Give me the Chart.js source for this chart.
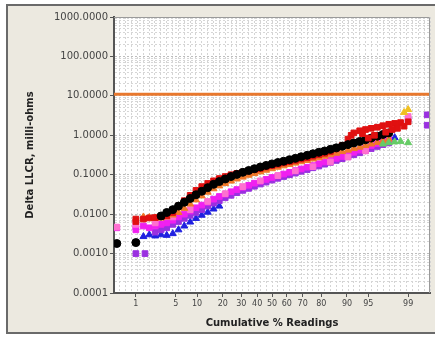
<!DOCTYPE html>
<html>
<head>
<meta charset="utf-8">
<script src="https://cdn.jsdelivr.net/npm/chart.js@4/dist/chart.umd.min.js"></script>
<style>
  html, body { margin: 0; padding: 0; background: #fff; }
  #chart { display: block; filter: blur(0.4px); }
</style>
</head>
<body>
<canvas id="chart" width="435" height="337"></canvas>
<script>
// Tick labels
var xTickPct = [1, 5, 10, 20, 30, 40, 50, 60, 70, 80, 90, 95, 99];
var yDecades = [0.0001, 0.001, 0.01, 0.1, 1, 10, 100, 1000];

// Limit line (milli-ohms)
var limitValue = 11;

// Cumulative % plotting positions shared by the main series
var stepPct = [1.4, 1.8, 2.3, 2.9, 3.6, 4.5, 5.5, 6.7, 8.1, 9.7, 11.5, 13.6, 15.9, 18.4, 21.2, 24.2, 27.4, 30.9, 34.5, 38.2, 42.1, 46.0, 50, 54.0, 57.9, 61.8, 65.5, 69.1, 72.6, 75.8, 78.8, 81.6, 84.1, 86.4, 88.5, 90.3, 91.9, 93.3, 94.5, 95.5, 96.4, 97.1, 97.7, 98.2, 98.6];

// Delta LLCR (milli-ohms) at each stepPct, null = no reading
var blackVal = [null, null, null, 0.009, 0.011, 0.013, 0.016, 0.02, 0.025, 0.031, 0.038, 0.047, 0.057, 0.067, 0.078, 0.09, 0.102, 0.115, 0.128, 0.142, 0.157, 0.172, 0.188, 0.204, 0.22, 0.24, 0.26, 0.285, 0.31, 0.34, 0.37, 0.4, 0.44, 0.48, 0.53, 0.58, 0.64, 0.7, 0.77, 0.85, 0.95, 1.05, 1.15, null, null];
var redVal = [0.0075, 0.008, 0.0082, 0.0085, 0.009, 0.011, 0.016, 0.022, 0.03, 0.04, 0.05, 0.06, 0.07, 0.08, 0.09, 0.1, 0.108, 0.116, 0.124, 0.134, 0.144, 0.157, 0.17, 0.184, 0.199, 0.215, 0.232, 0.25, 0.27, 0.295, 0.32, 0.35, 0.39, 0.45, 0.55, 0.8, 1.15, 1.3, 1.4, 1.5, 1.6, 1.75, 1.9, 2.0, 2.1];
var orangeVal = [0.0085, 0.0082, 0.008, 0.008, 0.0085, 0.0095, 0.011, 0.014, 0.018, 0.023, 0.029, 0.036, 0.044, 0.052, 0.06, 0.069, 0.078, 0.087, 0.097, 0.107, 0.118, 0.13, 0.142, 0.155, 0.168, 0.182, 0.197, 0.213, 0.23, 0.25, 0.27, 0.295, 0.32, 0.35, 0.385, 0.42, 0.46, 0.5, 0.55, 0.6, 0.66, 0.72, 0.8, null, null];
var magentaVal = [0.005, 0.0045, 0.005, 0.0055, 0.006, 0.007, 0.0085, 0.01, 0.012, 0.0145, 0.017, 0.02, 0.024, 0.028, 0.032, 0.037, 0.042, 0.048, 0.054, 0.061, 0.068, 0.076, 0.085, 0.094, 0.104, 0.115, 0.127, 0.14, 0.155, 0.17, 0.19, 0.21, 0.235, 0.26, 0.29, 0.33, 0.37, 0.42, 0.48, 0.55, 0.62, 0.7, 0.78, null, null];
var violetVal = [null, null, 0.0035, 0.004, 0.0045, 0.0055, 0.0065, 0.0078, 0.0093, 0.011, 0.013, 0.016, 0.019, 0.022, 0.026, 0.03, 0.035, 0.04, 0.045, 0.051, 0.058, 0.065, 0.073, 0.081, 0.09, 0.1, 0.11, 0.122, 0.135, 0.15, 0.166, 0.185, 0.205, 0.23, 0.255, 0.285, 0.32, 0.36, 0.41, 0.46, 0.52, 0.58, 0.64, null, null];
var blueVal = [0.0027, 0.003, 0.0028, 0.003, 0.0029, 0.0032, 0.004, 0.005, 0.0063, 0.0078, 0.0094, 0.0112, 0.0135, 0.016, null, null, null, null, null, null, null, null, null, null, null, null, null, null, null, null, null, null, null, null, null, null, null, null, null, null, null, null, 0.8, 0.87, null];

// Isolated readings at the ends of the distribution
var blackEndPct = [0.4, 1];
var blackEndVal = [0.0018, 0.0019];
var redEndPct = [1, 1, 91.2, 93.9, 95.0, 96.0, 97.4, 98.0, 98.4, 98.8, 99];
var redEndVal = [0.0075, 0.0065, 1.0, 1.1, 0.85, 1.0, 1.2, 1.4, 1.5, 1.7, 2.2];
var magentaEndPct = [0.4, 1, 1];
var magentaEndVal = [0.0045, 0.004, 0.0048];
var violetEndPct = [1, 1.5, 99, 99.6, 99.6];
var violetEndVal = [0.001, 0.001, 2.5, 3.3, 1.8];
var pinkPct = [0.4, 1, 2.3, 4.5, 8.1, 13.6, 21.2, 30.9, 42.1, 54, 65.5, 75.8, 84.1, 90.3, 94.5, 99];
var pinkVal = [0.0047, 0.0055, 0.006, 0.0085, 0.013, 0.021, 0.033, 0.05, 0.07, 0.095, 0.125, 0.16, 0.21, 0.28, 0.4, 3.0];
var greenPct = [97.1, 97.7, 98.2, 98.6, 99];
var greenVal = [0.6, 0.65, 0.68, 0.7, 0.65];
var yellowPct = [98.8, 99];
var yellowVal = [3.8, 4.5];

// inverse normal CDF, used as the probability-paper x scale
function probit(pct) {
    var p = pct / 100;
    var a = [-3.969683028665376e+01, 2.209460984245205e+02, -2.759285104469687e+02, 1.383577518672690e+02, -3.066479806614716e+01, 2.506628277459239e+00];
    var b = [-5.447609879822406e+01, 1.615858368580409e+02, -1.556989798598866e+02, 6.680131188771972e+01, -1.328068155288572e+01];
    var c = [-7.784894002430293e-03, -3.223964580411365e-01, -2.400758277161838e+00, -2.549732539343734e+00, 4.374664141464968e+00, 2.938163982698783e+00];
    var d = [7.784695709041462e-03, 3.224671290700398e-01, 2.445134137142996e+00, 3.754408661907416e+00];
    var pl = 0.02425, q, r;
    if (p < pl) {
        q = Math.sqrt(-2 * Math.log(p));
        return (((((c[0] * q + c[1]) * q + c[2]) * q + c[3]) * q + c[4]) * q + c[5]) / ((((d[0] * q + d[1]) * q + d[2]) * q + d[3]) * q + 1);
    }
    if (p > 1 - pl) {
        q = Math.sqrt(-2 * Math.log(1 - p));
        return -(((((c[0] * q + c[1]) * q + c[2]) * q + c[3]) * q + c[4]) * q + c[5]) / ((((d[0] * q + d[1]) * q + d[2]) * q + d[3]) * q + 1);
    }
    q = p - 0.5;
    r = q * q;
    return (((((a[0] * r + a[1]) * r + a[2]) * r + a[3]) * r + a[4]) * r + a[5]) * q / (((((b[0] * r + b[1]) * r + b[2]) * r + b[3]) * r + b[4]) * r + 1);
}

function points(pcts, vals) {
    var out = [];
    pcts.forEach(function (p, i) {
        if (vals[i] !== null) out.push({ x: probit(p), y: vals[i] });
    });
    return out;
}

function isDecade(v) {
    var l = Math.log10(v);
    return Math.abs(l - Math.round(l)) < 1e-9;
}

var X_MIN = -2.7, X_MAX = 2.7;

function series(data, color, style) {
    return {
        type: 'scatter',
        data: data,
        backgroundColor: color,
        borderColor: color,
        pointStyle: style,
        pointRadius: 4,
        borderWidth: 1
    };
}

// Frame and white plot background
var framePlugin = {
    id: 'frame',
    beforeDraw: function (chart) {
        var ctx = chart.ctx, a = chart.chartArea;
        ctx.save();
        ctx.fillStyle = '#fff';
        ctx.fillRect(0, 0, chart.width, chart.height);
        ctx.fillStyle = '#ECE9E0';
        ctx.fillRect(7, 5, 440, 328);
        ctx.strokeStyle = '#6A6A6A';
        ctx.lineWidth = 2;
        ctx.strokeRect(7, 5, 440, 328);
        ctx.fillStyle = '#fff';
        ctx.fillRect(a.left, a.top, a.right - a.left, a.bottom - a.top);
        ctx.restore();
    },
    afterDraw: function (chart) {
        var ctx = chart.ctx, a = chart.chartArea;
        ctx.save();
        ctx.strokeStyle = '#9A9A9A';
        ctx.lineWidth = 1;
        ctx.beginPath();
        ctx.moveTo(a.left, a.top + 0.5);
        ctx.lineTo(a.right - 0.5, a.top + 0.5);
        ctx.lineTo(a.right - 0.5, a.bottom);
        ctx.stroke();
        ctx.restore();
    }
};

var yTicks = [];
yDecades.forEach(function (d, i) {
    if (i === yDecades.length - 1) { yTicks.push(d); return; }
    for (var m = 1; m <= 9; m++) yTicks.push(d * m);
});

var ctx = document.getElementById('chart').getContext('2d');
new Chart(ctx, {
    type: 'scatter',
    data: {
        datasets: [
            {
                type: 'line',
                data: [{ x: X_MIN, y: limitValue }, { x: X_MAX, y: limitValue }],
                borderColor: '#E8782E',
                borderWidth: 3,
                pointRadius: 0,
                fill: false
            },
            series(points(yellowPct, yellowVal), '#F0C020', 'triangle'),
            series(points(greenPct, greenVal), '#66CC66', 'triangle'),
            series(points(stepPct, redVal).slice(36).concat(points(redEndPct, redEndVal).slice(2)), '#E01010', 'rect'),
            series(points(stepPct, blackVal).concat(points(blackEndPct, blackEndVal)), '#000000', 'circle'),
            series(points(stepPct, redVal).slice(0, 36).concat(points(redEndPct, redEndVal).slice(0, 2)), '#E01010', 'rect'),
            series(points(stepPct, orangeVal), '#F07828', 'triangle'),
            series(points(pinkPct, pinkVal), '#FF70D0', 'rect'),
            series(points(stepPct, magentaVal).concat(points(magentaEndPct, magentaEndVal)), '#F020F0', 'rect'),
            series(points(stepPct, violetVal).concat(points(violetEndPct, violetEndVal)), '#9A30E0', 'rect'),
            series(points(stepPct, blueVal), '#1F1FE0', 'triangle')
        ]
    },
    options: {
        responsive: false,
        animation: false,
        layout: { padding: { left: 20, top: 17, right: 3, bottom: 0 } },
        plugins: { legend: { display: false }, tooltip: { enabled: false } },
        scales: {
            x: {
                type: 'linear',
                position: 'bottom',
                min: X_MIN,
                max: X_MAX,
                afterBuildTicks: function (scale) {
                    scale.ticks = xTickPct.map(function (p) { return { value: probit(p) }; });
                },
                afterFit: function (scale) { scale.height = 44; },
                ticks: {
                    autoSkip: false,
                    maxRotation: 0,
                    padding: 2,
                    color: '#444',
                    font: { family: 'DejaVu Sans', size: 8 },
                    callback: function (v, i) { return String(xTickPct[i]); }
                },
                grid: { drawOnChartArea: false, drawTicks: true, tickLength: 4, tickColor: '#555' },
                border: { display: true, color: '#555', width: 2 },
                title: {
                    display: true,
                    text: 'Cumulative % Readings',
                    color: '#222',
                    font: { family: 'DejaVu Sans', size: 10, weight: 'bold' },
                    padding: { top: 0, bottom: 8 }
                }
            },
            xg: {
                type: 'linear',
                position: 'bottom',
                min: X_MIN,
                max: X_MAX,
                afterFit: function (scale) { scale.height = 0; },
                ticks: { display: false, stepSize: 0.1, autoSkip: false },
                grid: { color: '#D4D4D4', drawTicks: false, lineWidth: 1 },
                border: { display: false, dash: [2, 2] }
            },
            y: {
                type: 'logarithmic',
                min: 0.0001,
                max: 1000,
                afterBuildTicks: function (scale) {
                    scale.ticks = yTicks.map(function (v) { return { value: v, major: isDecade(v) }; });
                },
                afterFit: function (scale) { scale.width = 94; },
                ticks: {
                    autoSkip: false,
                    padding: 2,
                    color: '#444',
                    font: { family: 'DejaVu Sans', size: 10 },
                    callback: function (v) { return isDecade(v) ? v.toFixed(4) : ''; }
                },
                grid: {
                    color: function (c) { return c.tick && isDecade(c.tick.value) ? '#BDBDBD' : '#D6D6D6'; },
                    tickColor: function (c) { return c.tick && isDecade(c.tick.value) ? '#555' : 'rgba(0,0,0,0)'; },
                    tickLength: 4,
                    lineWidth: 1
                },
                border: { display: true, color: '#555', width: 2, dash: [2, 2] },
                title: {
                    display: true,
                    text: 'Delta LLCR, milli-ohms',
                    color: '#222',
                    font: { family: 'DejaVu Sans', size: 10, weight: 'bold' },
                    padding: { top: 4, bottom: 0 }
                }
            }
        }
    },
    plugins: [framePlugin]
});
</script>
</body>
</html>
